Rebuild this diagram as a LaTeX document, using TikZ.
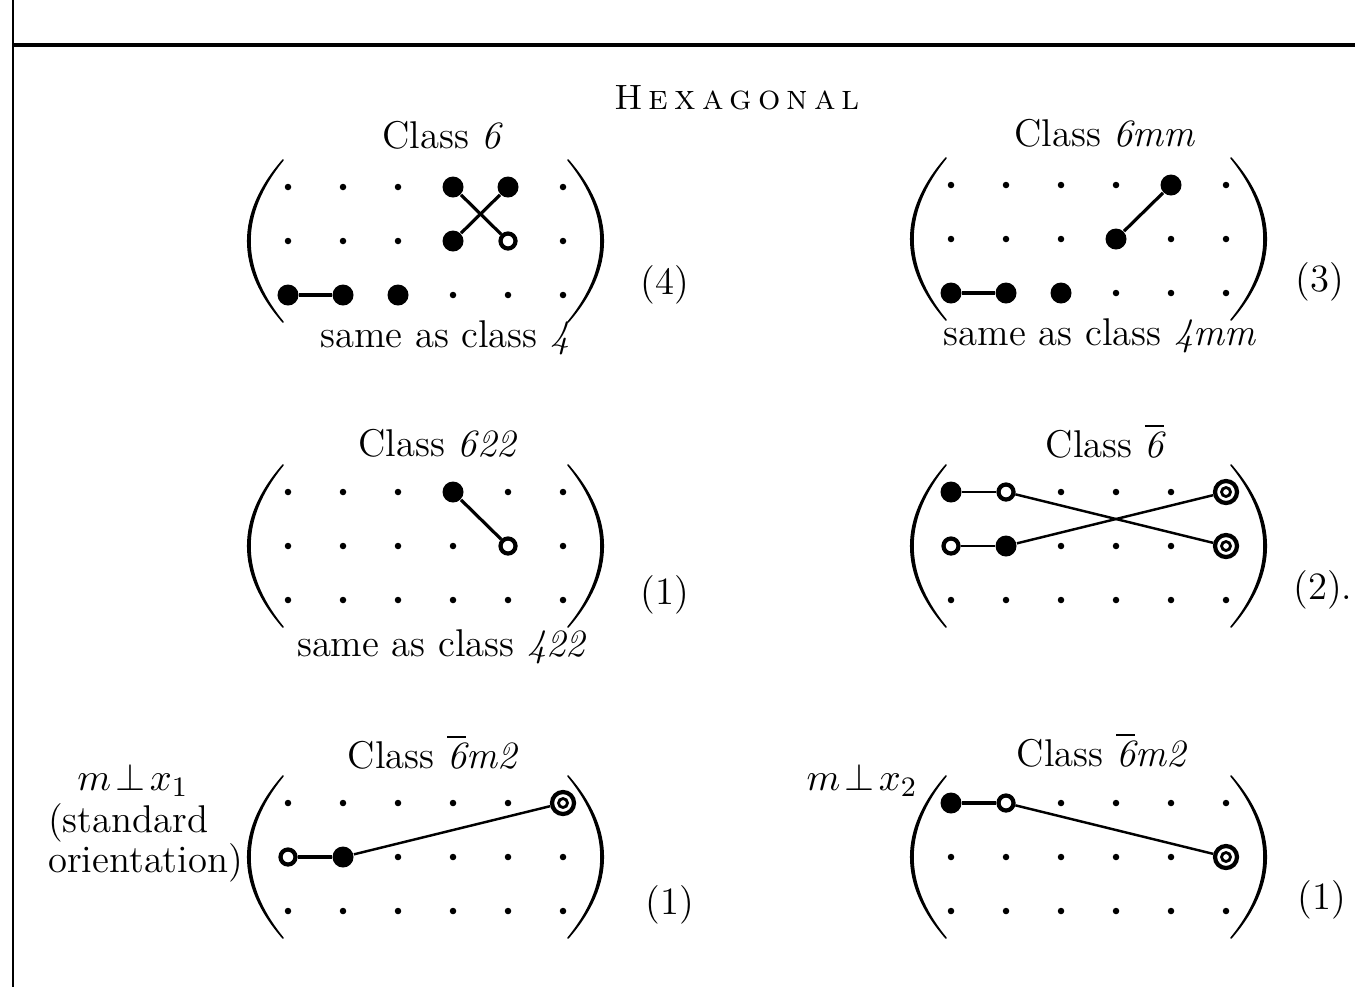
\documentclass[tikz,border=0pt]{standalone}
\usepackage{fontspec}
\usepackage{amsmath}
\usetikzlibrary{positioning, calc}

% 6x3 lattice of points with its two parentheses
\newcommand{\lattice}[3]{%
  \foreach \col in {1,...,6}{
    \foreach \rw in {1,2,3}{
      \node[dotpt] (#1-\col-\rw) at ({#2+55*(\col-1)},{#3+54*(\rw-1)}) {};
    }
  }
  \filldraw[paren] ({#2-5},{#3-27}) .. controls ({#2-52},{#3+27}) and ({#2-52},{#3+81}) .. ({#2-5},{#3+135})
    .. controls ({#2-49},{#3+81}) and ({#2-49},{#3+27}) .. cycle;
  \filldraw[paren] ({#2+280},{#3-27}) .. controls ({#2+327},{#3+27}) and ({#2+327},{#3+81}) .. ({#2+280},{#3+135})
    .. controls ({#2+324},{#3+81}) and ({#2+324},{#3+27}) .. cycle;
}

\begin{document}
\begin{tikzpicture}[x=0.01cm, y=-0.01cm,
    every node/.style={font=\fontsize{11}{11.5}\selectfont},
    dotpt/.style={circle, fill=black, inner sep=0pt, minimum size=0.065cm},
    full/.style={circle, fill=black, inner sep=0pt, minimum size=0.21cm},
    hollow/.style={circle, draw, fill=white, line width=1.2pt, inner sep=0pt, minimum size=0.15cm},
    twin/.style={circle, draw, fill=white, line width=1.2pt, inner sep=0pt, minimum size=0.22cm,
      path picture={\draw[line width=0.8pt] (path picture bounding box.center) circle (0.045cm);}},
    link/.style={line width=0.9pt},
    thin link/.style={line width=0.7pt},
    paren/.style={fill=black, draw=black, line width=0.45pt, line join=round}]
    \useasboundingbox (0,0) rectangle (1355,987);

    % Frame
    \coordinate (ftop) at (13,0);
    \coordinate (fbot) at (13,987);
    \coordinate (rule) at (1355,45);
    \draw[line width=0.8pt] (ftop) -- (fbot);
    \draw[line width=1.1pt] (ftop |- rule) -- (rule);

    \node (title) at (737,98) {\fontsize{10}{12}\selectfont\textsc{H\kern1.7pt e\kern1.7pt x\kern1.7pt a\kern1.7pt
      g\kern1.7pt o\kern1.7pt n\kern1.7pt a\kern1.7pt l}};

    % Lattices
    \lattice{a}{288}{187}
    \lattice{b}{951}{185}
    \lattice{c}{288}{492}
    \lattice{d}{951}{492}
    \lattice{e}{288}{803}
    \lattice{f}{951}{803}

    % Class 6
    \node (ca) at (443,135) {Class \textit{6}};
    \node[full] (a1) at (a-4-1) {};
    \node[full] (a2) at (a-5-1) {};
    \node[full] (a3) at (a-4-2) {};
    \node[hollow] (a4) at (a-5-2) {};
    \node[full] (a5) at (a-1-3) {};
    \node[full] (a6) at (a-2-3) {};
    \node[full] (a7) at (a-3-3) {};
    \draw[link] (a1) -- (a4);
    \draw[link] (a2) -- (a3);
    \draw[link] (a5) -- (a6);
    \node (sa) at (445,338) {same as class \textit{4}};
    \node (na) at (665,285) {(4)};

    % Class 6mm
    \node (cb) at (1105,133) {Class \textit{6mm}};
    \node[full] (b1) at (b-5-1) {};
    \node[full] (b2) at (b-4-2) {};
    \node[full] (b3) at (b-1-3) {};
    \node[full] (b4) at (b-2-3) {};
    \node[full] (b5) at (b-3-3) {};
    \draw[link] (b1) -- (b2);
    \draw[link] (b3) -- (b4);
    \node (sb) at (1100,336) {same as class \textit{4mm}};
    \node (nb) at (1320,282) {(3)};

    % Class 622
    \node (cc) at (438,443) {Class \textit{622}};
    \node[full] (c1) at (c-4-1) {};
    \node[hollow] (c2) at (c-5-2) {};
    \draw[link] (c1) -- (c2);
    \node (sc) at (442,647) {same as class \textit{422}};
    \node (nc) at (665,595) {(1)};

    % Class 6bar
    \node (cd) at (1105,441) {Class $\overline{\textit{6}}$};
    \node[full] (d1) at (d-1-1) {};
    \node[hollow] (d2) at (d-2-1) {};
    \node[hollow] (d3) at (d-1-2) {};
    \node[full] (d4) at (d-2-2) {};
    \node[twin] (d5) at (d-6-1) {};
    \node[twin] (d6) at (d-6-2) {};
    \draw[thin link] (d1) -- (d2);
    \draw[thin link] (d3) -- (d4);
    \draw[thin link] (d2) -- (d6);
    \draw[thin link] (d4) -- (d5);
    \node (nd) at (1323,590) {(2).};

    % Class 6bar m2, m perp x1
    \node (ce) at (433,752) {Class $\overline{\textit{6}}$\textit{m2}};
    \node[inner sep=1pt] (me) at (133,780) {$m\mskip2mu\bot\mskip2mu x_1$};
    \node[anchor=west, align=left, inner sep=1pt] (oe) at (44,843) {(standard\\orientation)};
    \node[hollow] (e1) at (e-1-2) {};
    \node[full] (e2) at (e-2-2) {};
    \node[twin] (e3) at (e-6-1) {};
    \draw[link] (e1) -- (e2);
    \draw[thin link] (e2) -- (e3);
    \node (ne) at (670,905) {(1)};

    % Class 6bar m2, m perp x2
    \node (cf) at (1102,750) {Class $\overline{\textit{6}}$\textit{m2}};
    \node (mf) at (862,780) {$m\mskip2mu\bot\mskip2mu x_2$};
    \node[full] (f1) at (f-1-1) {};
    \node[hollow] (f2) at (f-2-1) {};
    \node[twin] (f3) at (f-6-2) {};
    \draw[link] (f1) -- (f2);
    \draw[thin link] (f2) -- (f3);
    \node (nf) at (1322,900) {(1)};
\end{tikzpicture}
\end{document}
